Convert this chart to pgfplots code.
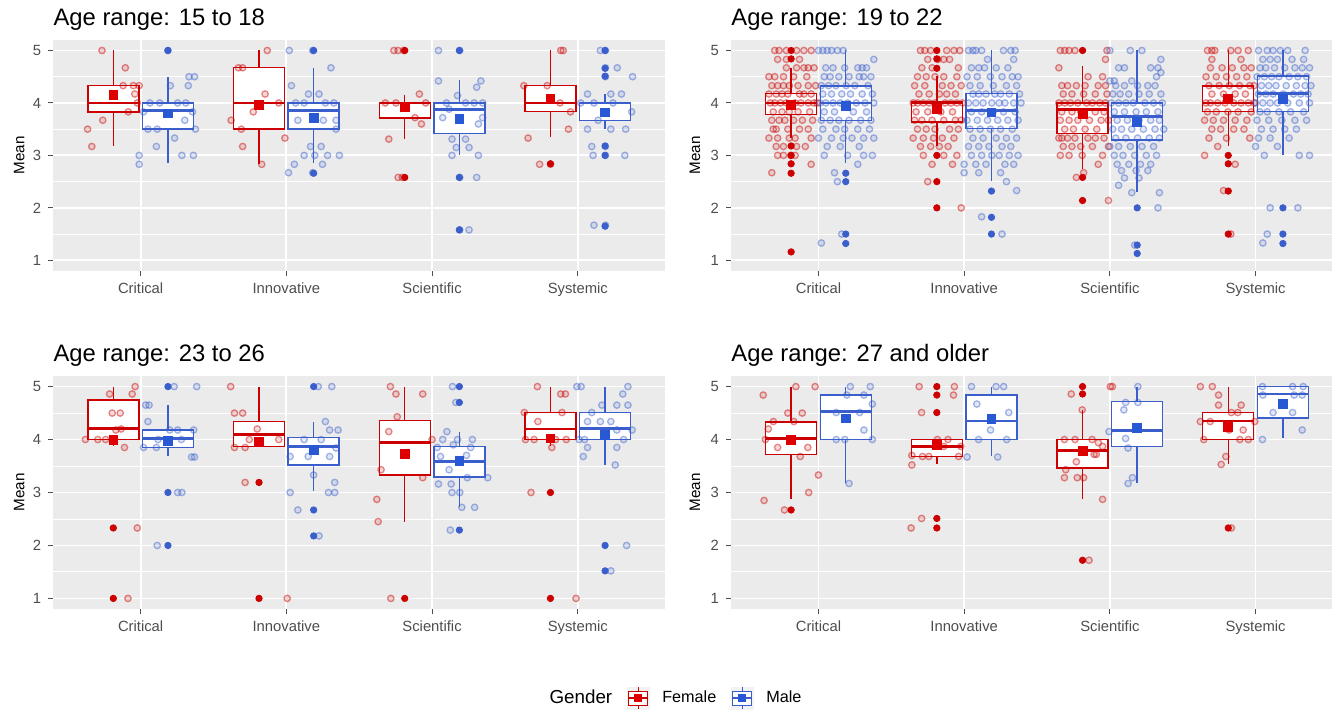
\documentclass[border=0pt]{standalone}
\usepackage{fontspec}
\setmainfont{Liberation Sans}
\usepackage{pgfplots}
\pgfplotsset{compat=1.18}
\usepgfplotslibrary{statistics}
\definecolor{femc}{RGB}{204,0,0}
\definecolor{femmean}{RGB}{222,0,0}
\definecolor{malc}{RGB}{58,95,205}
\definecolor{malmean}{RGB}{40,88,212}
\definecolor{panelbg}{RGB}{235,235,235}
\definecolor{tickgray}{RGB}{77,77,77}
\definecolor{keybg}{RGB}{242,242,242}
\pgfplotsset{
  panel/.style={
    scale only axis, anchor=south west,
    xmin=0.4, xmax=4.6, ymin=0.8, ymax=5.2,
    axis background/.style={fill=panelbg},
    axis line style={draw=none},
    tick pos=left,
    xtick={1,2,3,4}, xticklabels={Critical,Innovative,Scientific,Systemic},
    ytick={1,2,3,4,5}, minor ytick={1.5,2.5,3.5,4.5},
    xmajorgrids, ymajorgrids, yminorgrids,
    major grid style={white, line width=0.9pt},
    minor grid style={white, line width=0.45pt},
    tick align=outside, major tick length=2.5pt, minor tick length=0pt,
    tick style={tickgray, line width=0.5pt},
    tick label style={font=\fontsize{7.4}{9}\selectfont, color=tickgray},
    /pgf/number format/assume math mode=true,
    ylabel={Mean},
    every axis y label/.style={at={(axis description cs:-0.0556,0.5)}, rotate=90, anchor=center, font=\fontsize{7.6}{9}\selectfont},
    every axis title/.style={at={(axis description cs:0,1)}, anchor=base west, yshift=7pt, inner sep=0pt, font=\fontsize{11.9}{14}\selectfont},
  },
  rpanel/.style={panel, xmax=4.5245,
    every axis y label/.style={at={(axis description cs:-0.0599,0.5)}, rotate=90, anchor=center, font=\fontsize{7.6}{9}\selectfont}},
  fembox/.style={forget plot, draw=femc, fill=white, line width=0.7pt, solid, boxplot/every median/.style={line width=1.4pt}},
  malbox/.style={forget plot, draw=malc, fill=white, line width=0.7pt, solid, boxplot/every median/.style={line width=1.4pt}},
  femjit/.style={forget plot, only marks, mark=*, mark size=1.6pt, mark options={draw=femc, fill=femc, draw opacity=0.45, fill opacity=0.14, line width=0.65pt}},
  maljit/.style={forget plot, only marks, mark=*, mark size=1.6pt, mark options={draw=malc, fill=malc, draw opacity=0.45, fill opacity=0.14, line width=0.65pt}},
  femout/.style={forget plot, only marks, mark=*, mark size=1.6pt, color=femc},
  malout/.style={forget plot, only marks, mark=*, mark size=1.6pt, color=malc},
  femmn/.style={forget plot, only marks, mark=square*, mark size=2.2pt, color=femmean},
  malmn/.style={forget plot, only marks, mark=square*, mark size=2.2pt, color=malmean},
}
\newcommand\Bx[7]{\addplot[#1, boxplot prepared={draw direction=y, draw position=#2, lower whisker=#3, lower quartile=#4, median=#5, upper quartile=#6, upper whisker=#7, box extend=0.35, whisker extend=0}] coordinates {};}
\begin{document}
\begin{tikzpicture}
\useasboundingbox (0,0) rectangle (666pt,356pt);
% ---------------- Panel 1: 15 to 18
\begin{axis}[panel, at={(26.6pt,220.6pt)}, width=306pt, height=115.4pt, title={Age range: 15 to 18}]
\Bx{fembox}{0.8125}{3.17}{3.83}{4.0}{4.33}{5.0}
\Bx{malbox}{1.1875}{2.85}{3.5}{3.85}{4.0}{4.5}
\Bx{fembox}{1.8125}{2.84}{3.5}{4.0}{4.67}{5.0}
\Bx{malbox}{2.1875}{2.85}{3.5}{3.85}{4.0}{4.66}
\Bx{fembox}{2.8125}{3.31}{3.71}{4.0}{4.0}{4.16}
\Bx{malbox}{3.1875}{3.0}{3.42}{3.88}{4.0}{4.44}
\Bx{fembox}{3.8125}{3.35}{3.84}{4.0}{4.33}{5.0}
\Bx{malbox}{4.1875}{3.5}{3.67}{4.0}{4.0}{4.18}
\addplot[femout] coordinates {(2.8125,5)(2.8125,2.58)(3.8125,2.84)};
\addplot[malout] coordinates {(1.1875,5)(2.1875,5)(2.1875,2.66)(3.1875,5)(3.1875,2.58)(3.1875,1.58)(4.1875,5)(4.1875,4.66)(4.1875,4.51)(4.1875,3.18)(4.1875,3)(4.1875,1.65)};
\addplot[femjit] coordinates {
(0.735,5.0)(0.895,4.67)(0.95,4.33)(0.88,4.33)(0.74,3.67)(0.636,3.5)(0.665,3.17)(0.915,3.83)(0.977,4.0)(0.99,4.33)(0.96,4.17)
(1.869,5.0)(1.671,4.67)(1.70,4.67)(1.621,3.67)(1.691,3.5)(1.70,3.17)(1.773,3.83)(1.854,4.17)(1.99,3.33)(1.831,2.83)(1.948,4.0)
(2.738,5.0)(2.767,5.0)(2.805,5.0)(2.913,4.17)(2.679,4.0)(2.752,4.0)(2.956,4.0)(2.883,3.72)(2.927,3.6)(2.703,3.31)(2.767,2.58)(2.796,2.58)
(3.883,5.0)(3.90,5.0)(3.79,4.33)(3.63,4.33)(3.878,4.0)(3.95,3.83)(3.936,3.5)(3.659,3.33)(3.738,2.83)(3.813,2.83)};
\addplot[maljit] coordinates {
(1.187,5.0)(1.37,4.5)(1.332,4.5)(1.204,4.33)(1.327,4.33)(1.02,3.83)(1.064,4.0)(1.131,4.0)(1.254,4.0)(1.31,4.0)(1.356,3.83)(1.376,3.5)(1.05,3.5)(1.114,3.5)(1.303,3.67)(1.108,3.17)(1.233,3.33)(1.283,3.0)(1.362,3.0)(0.99,3.0)(0.99,2.83)
(2.02,5.0)(2.181,5.0)(2.306,4.67)(2.035,4.33)(2.152,4.17)(2.224,4.17)(2.064,4.0)(2.122,4.0)(2.268,4.0)(2.326,4.0)(2.079,3.67)(2.254,3.67)(2.341,3.67)(2.341,3.5)(2.239,3.17)(2.166,3.17)(2.122,3.0)(2.195,3.0)(2.283,3.0)(2.364,3.0)(2.055,2.83)(2.248,2.83)(2.015,2.67)(2.181,2.67)
(3.044,5.0)(3.19,5.0)(3.044,4.42)(3.335,4.42)(3.306,4.3)(3.175,4.14)(3.099,4.0)(3.23,4.0)(3.289,4.0)(3.347,4.0)(3.073,3.72)(3.347,3.72)(3.318,3.6)(3.137,3.31)(3.23,3.31)(3.166,3.15)(3.254,3.15)(3.137,3.0)(3.318,3.0)(3.306,2.58)(3.19,2.58)(3.254,1.58)(3.19,1.58)(3.117,3.88)
(4.155,5.0)(4.19,5.0)(4.271,4.67)(4.19,4.67)(4.376,4.5)(4.19,4.5)(4.067,4.17)(4.227,4.17)(4.30,4.17)(4.02,4.0)(4.111,4.0)(4.242,4.0)(4.37,3.83)(4.067,3.5)(4.329,3.5)(4.227,3.5)(4.096,3.17)(4.19,3.17)(4.105,3.0)(4.323,3.0)(4.19,3.0)(4.111,1.67)(4.19,1.67)(4.14,3.67)};
\addplot[femmn] coordinates {(0.8125,4.15)(1.8125,3.97)(2.8125,3.93)(3.8125,4.07)};
\addplot[malmn] coordinates {(1.1875,3.80)(2.1875,3.72)(3.1875,3.70)(4.1875,3.82)};
\end{axis}
% ---------------- Panel 2: 19 to 22
\begin{axis}[rpanel, at={(365.5pt,220.6pt)}, width=300.5pt, height=115.4pt, title={Age range: 19 to 22}]
\Bx{fembox}{0.8125}{3.34}{3.78}{4.0}{4.18}{4.66}
\Bx{malbox}{1.1875}{2.85}{3.66}{4.0}{4.32}{5.0}
\Bx{fembox}{1.8125}{3.18}{3.64}{4.0}{4.03}{4.51}
\Bx{malbox}{2.1875}{2.52}{3.51}{3.86}{4.18}{5.0}
\Bx{fembox}{2.8125}{2.74}{3.42}{3.88}{4.0}{4.7}
\Bx{malbox}{3.1875}{2.31}{3.29}{3.74}{4.0}{5.0}
\Bx{fembox}{3.8125}{3.18}{3.84}{4.0}{4.32}{5.0}
\Bx{malbox}{4.1875}{3.01}{3.84}{4.18}{4.51}{5.0}
\addplot[femout] coordinates {(0.8125,5)(0.8125,4.84)(0.8125,3.18)(0.8125,3)(0.8125,2.84)(0.8125,2.66)(0.8125,1.16)(1.8125,5)(1.8125,4.84)(1.8125,4.66)(1.8125,3)(1.8125,2.5)(1.8125,2)(2.8125,5)(2.8125,2.58)(2.8125,2.14)(3.8125,3)(3.8125,2.84)(3.8125,2.32)(3.8125,1.5)};
\addplot[malout] coordinates {(1.1875,2.66)(1.1875,2.5)(1.1875,1.5)(1.1875,1.32)(2.1875,2.32)(2.1875,1.82)(2.1875,1.5)(3.1875,2)(3.1875,1.29)(3.1875,1.13)(4.1875,2)(4.1875,1.5)(4.1875,1.32)};
\addplot[femjit] coordinates {
(0.70,5)(0.73,5)(0.78,5)(0.85,5)(0.90,5)(0.95,5)
(0.72,4.83)(0.78,4.83)(0.87,4.83)
(0.78,4.67)(0.85,4.67)(0.90,4.67)(0.93,4.67)(0.97,4.67)
(0.66,4.5)(0.70,4.5)(0.76,4.5)(0.83,4.5)(0.92,4.5)
(0.68,4.33)(0.72,4.33)(0.76,4.33)(0.80,4.33)(0.86,4.33)(0.93,4.33)(0.98,4.33)
(0.66,4.17)(0.71,4.17)(0.75,4.17)(0.79,4.17)(0.87,4.17)(0.90,4.17)(0.95,4.17)
(0.67,4)(0.70,4)(0.74,4)(0.78,4)(0.84,4)(0.88,4)(0.93,4)(0.97,4)(0.99,4)
(0.69,3.83)(0.75,3.83)(0.80,3.83)(0.86,3.83)(0.94,3.83)
(0.68,3.67)(0.73,3.67)(0.77,3.67)(0.83,3.67)(0.89,3.67)(0.96,3.67)
(0.69,3.5)(0.71,3.5)(0.79,3.5)(0.87,3.5)(0.93,3.5)
(0.66,3.33)(0.72,3.33)(0.80,3.33)(0.84,3.33)(0.95,3.33)
(0.71,3.17)(0.76,3.17)(0.85,3.17)(0.91,3.17)
(0.72,3)(0.76,3)(0.81,3)(0.84,3)
(0.95,2.83)(0.68,2.67)
(1.70,5)(1.73,5)(1.77,5)(1.88,5)(1.93,5)(1.97,5)
(1.75,4.83)(1.82,4.83)(1.86,4.83)(1.90,4.83)
(1.71,4.67)(1.78,4.67)(1.96,4.67)
(1.68,4.5)(1.74,4.5)(1.80,4.5)(1.86,4.5)(1.95,4.5)
(1.66,4.33)(1.73,4.33)(1.85,4.33)(1.91,4.33)(1.98,4.33)
(1.69,4.17)(1.76,4.17)(1.83,4.17)(1.88,4.17)(1.94,4.17)
(1.65,4)(1.68,4)(1.72,4)(1.76,4)(1.80,4)(1.87,4)(1.91,4)(1.95,4)(1.99,4)
(1.67,3.83)(1.75,3.83)(1.84,3.83)(1.92,3.83)
(1.66,3.67)(1.71,3.67)(1.78,3.67)(1.86,3.67)(1.94,3.67)(1.98,3.67)
(1.68,3.5)(1.74,3.5)(1.80,3.5)(1.90,3.5)(1.96,3.5)
(1.65,3.33)(1.72,3.33)(1.79,3.33)(1.85,3.33)(1.93,3.33)
(1.70,3.17)(1.77,3.17)(1.83,3.17)(1.89,3.17)
(1.72,3)(1.86,3)(1.95,3)
(1.78,2.83)(1.92,2.83)(1.75,2.5)(1.98,2)
(2.66,5)(2.69,5)(2.72,5)(2.76,5)(2.98,5)
(2.97,4.83)(2.65,4.67)(2.85,4.5)(2.95,4.5)
(2.67,4.33)(2.71,4.33)(2.77,4.33)(2.83,4.33)(2.92,4.33)(2.97,4.33)
(2.68,4.17)(2.74,4.17)(2.82,4.17)(2.90,4.17)(2.98,4.17)
(2.65,4)(2.69,4)(2.73,4)(2.78,4)(2.84,4)(2.88,4)(2.93,4)(2.97,4)
(2.67,3.83)(2.74,3.83)(2.80,3.83)(2.90,3.83)(2.96,3.83)
(2.66,3.67)(2.72,3.67)(2.78,3.67)(2.86,3.67)(2.94,3.67)(2.99,3.67)
(2.69,3.5)(2.75,3.5)(2.83,3.5)(2.91,3.5)
(2.65,3.33)(2.67,3.33)(2.71,3.33)(2.76,3.33)(2.85,3.33)(2.90,3.33)(2.96,3.33)
(2.68,3.17)(2.74,3.17)(2.80,3.17)(2.88,3.17)(2.99,3.17)
(2.66,3)(2.72,3)(2.81,3)(2.95,3)
(2.92,2.83)(2.82,2.67)(2.77,2.58)(2.99,2.14)
(3.67,5)(3.70,5)(3.72,5)(3.83,5)(3.88,5)(3.95,5)
(3.70,4.83)(3.90,4.83)
(3.69,4.67)(3.77,4.67)(3.84,4.67)(3.92,4.67)(3.97,4.67)
(3.66,4.5)(3.73,4.5)(3.80,4.5)(3.87,4.5)(3.94,4.5)
(3.68,4.33)(3.75,4.33)(3.82,4.33)(3.89,4.33)(3.96,4.33)(3.99,4.33)
(3.70,4.17)(3.78,4.17)(3.86,4.17)(3.93,4.17)
(3.66,4)(3.69,4)(3.74,4)(3.79,4)(3.85,4)(3.90,4)(3.95,4)(3.99,4)
(3.67,3.83)(3.73,3.83)(3.81,3.83)(3.88,3.83)(3.97,3.83)
(3.65,3.67)(3.71,3.67)(3.78,3.67)(3.86,3.67)(3.94,3.67)
(3.70,3.5)(3.76,3.5)(3.85,3.5)(3.92,3.5)
(3.68,3.33)(3.80,3.33)(3.96,3.33)
(3.74,3.17)(3.65,3)(3.86,2.83)(3.78,2.33)(3.83,1.5)};
\addplot[maljit] coordinates {
(1.00,5)(1.03,5)(1.06,5)(1.09,5)(1.13,5)(1.17,5)
(1.38,4.83)
(1.05,4.67)(1.10,4.67)(1.18,4.67)(1.27,4.67)(1.30,4.67)(1.33,4.67)
(1.04,4.5)(1.08,4.5)(1.14,4.5)(1.21,4.5)(1.28,4.5)(1.31,4.5)(1.36,4.5)
(1.02,4.33)(1.07,4.33)(1.12,4.33)(1.19,4.33)(1.25,4.33)(1.34,4.33)
(1.03,4.17)(1.09,4.17)(1.16,4.17)(1.22,4.17)(1.30,4.17)(1.37,4.17)
(1.01,4)(1.05,4)(1.10,4)(1.15,4)(1.20,4)(1.26,4)(1.32,4)(1.38,4)
(1.04,3.83)(1.11,3.83)(1.24,3.83)(1.33,3.83)
(1.02,3.67)(1.08,3.67)(1.14,3.67)(1.21,3.67)(1.29,3.67)(1.36,3.67)
(1.03,3.5)(1.12,3.5)(1.18,3.5)(1.27,3.5)(1.35,3.5)
(1.00,3.33)(1.09,3.33)(1.17,3.33)(1.23,3.33)(1.31,3.33)(1.38,3.33)
(1.06,3.17)(1.15,3.17)(1.28,3.17)
(1.04,3)(1.20,3)(1.31,3)(1.37,3)
(1.27,2.83)(1.11,2.67)(1.13,2.5)(1.16,1.5)(1.02,1.33)
(2.03,5)(2.06,5)(2.08,5)(2.12,5)(2.27,5)(2.32,5)(2.35,5)
(2.16,4.83)(2.34,4.83)
(2.05,4.67)(2.10,4.67)(2.14,4.67)(2.22,4.67)(2.30,4.67)
(2.02,4.5)(2.09,4.5)(2.18,4.5)(2.26,4.5)(2.33,4.5)(2.37,4.5)
(2.04,4.33)(2.11,4.33)(2.20,4.33)(2.29,4.33)(2.36,4.33)
(2.06,4.17)(2.10,4.17)(2.15,4.17)(2.21,4.17)(2.25,4.17)(2.31,4.17)(2.38,4.17)
(2.03,4)(2.08,4)(2.13,4)(2.19,4)(2.24,4)(2.28,4)(2.34,4)(2.39,4)
(2.05,3.83)(2.12,3.83)(2.20,3.83)(2.27,3.83)(2.35,3.83)
(2.02,3.67)(2.09,3.67)(2.16,3.67)(2.23,3.67)(2.30,3.67)(2.37,3.67)
(2.04,3.5)(2.11,3.5)(2.18,3.5)(2.25,3.5)(2.33,3.5)
(2.06,3.33)(2.13,3.33)(2.22,3.33)(2.29,3.33)(2.36,3.33)
(2.03,3.17)(2.10,3.17)(2.17,3.17)(2.26,3.17)(2.32,3.17)
(2.05,3)(2.12,3)(2.19,3)(2.24,3)(2.31,3)(2.37,3)
(2.00,2.83)(2.08,2.83)(2.15,2.83)(2.28,2.83)(2.34,2.83)
(2.00,2.67)(2.10,2.67)(2.25,2.67)
(2.29,2.5)(2.36,2.33)(2.12,1.83)(2.26,1.5)
(3.00,5)(3.14,5)(3.22,5)(3.35,4.83)
(3.06,4.67)(3.10,4.67)(3.28,4.67)(3.33,4.67)(3.32,4.5)(3.35,4.58)
(3.00,4.42)(3.03,4.42)(3.15,4.42)
(3.04,4.33)(3.10,4.33)(3.19,4.33)(3.26,4.33)(3.31,4.33)
(3.02,4.17)(3.07,4.17)(3.13,4.17)(3.20,4.17)(3.27,4.17)(3.35,4.17)
(3.01,4)(3.06,4)(3.11,4)(3.16,4)(3.24,4)(3.30,4)(3.36,4)
(3.03,3.83)(3.10,3.83)(3.18,3.83)(3.25,3.83)(3.33,3.83)
(3.05,3.67)(3.12,3.67)(3.20,3.67)(3.28,3.67)(3.34,3.67)
(3.02,3.5)(3.08,3.5)(3.15,3.5)(3.23,3.5)(3.31,3.5)(3.37,3.5)
(3.04,3.33)(3.11,3.33)(3.19,3.33)(3.27,3.33)(3.34,3.33)
(3.00,3.17)(3.06,3.17)(3.14,3.17)(3.22,3.17)(3.30,3.17)
(3.03,3)(3.09,3)(3.17,3)(3.25,3)(3.32,3)
(3.05,2.83)(3.13,2.83)(3.21,2.83)(3.28,2.83)
(3.08,2.71)(3.18,2.71)(3.26,2.71)
(3.10,2.57)(3.20,2.57)(3.06,2.43)(3.15,2.29)(3.34,2.29)(3.33,2)(3.17,1.29)
(4.02,5)(4.08,5)(4.12,5)(4.17,5)(4.22,5)(4.34,5)
(4.05,4.83)(4.10,4.83)(4.15,4.83)(4.25,4.83)(4.33,4.83)
(4.03,4.67)(4.07,4.67)(4.13,4.67)(4.20,4.67)(4.27,4.67)(4.32,4.67)(4.37,4.67)
(4.01,4.5)(4.06,4.5)(4.11,4.5)(4.16,4.5)(4.23,4.5)(4.29,4.5)(4.35,4.5)
(4.04,4.33)(4.09,4.33)(4.14,4.33)(4.21,4.33)(4.28,4.33)(4.34,4.33)(4.38,4.33)
(4.02,4.17)(4.07,4.17)(4.12,4.17)(4.19,4.17)(4.26,4.17)(4.31,4.17)(4.36,4.17)
(4.00,4)(4.05,4)(4.10,4)(4.15,4)(4.22,4)(4.30,4)(4.37,4)
(4.03,3.83)(4.08,3.83)(4.16,3.83)(4.24,3.83)(4.33,3.83)
(4.01,3.67)(4.09,3.67)(4.18,3.67)(4.27,3.67)(4.35,3.67)
(4.04,3.5)(4.12,3.5)(4.20,3.5)(4.28,3.5)
(4.02,3.33)(4.10,3.33)(4.23,3.33)
(4.00,3.17)(4.15,3.17)
(4.06,3)(4.30,3)(4.37,3)
(4.10,2)(4.29,2)(4.08,1.5)(4.05,1.33)};
\addplot[femmn] coordinates {(0.8125,3.97)(1.8125,3.88)(2.8125,3.78)(3.8125,4.08)};
\addplot[malmn] coordinates {(1.1875,3.94)(2.1875,3.82)(3.1875,3.64)(4.1875,4.08)};
\end{axis}
% ---------------- Panel 3: 23 to 26
\begin{axis}[panel, at={(26.6pt,51.5pt)}, width=306pt, height=116.5pt, title={Age range: 23 to 26},
  legend style={at={(1.0168,-0.382)}, anchor=center, draw=none, fill=none, legend columns=3,
    font=\fontsize{8.1}{10}\selectfont, /tikz/every even column/.append style={column sep=4.5pt}}]
\Bx{fembox}{0.8125}{3.87}{4.0}{4.21}{4.75}{5.0}
\Bx{malbox}{1.1875}{3.68}{3.85}{4.02}{4.18}{4.65}
\Bx{fembox}{1.8125}{3.87}{3.87}{4.09}{4.34}{5.0}
\Bx{malbox}{2.1875}{3.02}{3.52}{3.87}{4.04}{4.34}
\Bx{fembox}{2.8125}{2.45}{3.33}{3.94}{4.36}{5.0}
\Bx{malbox}{3.1875}{2.73}{3.29}{3.58}{3.87}{4.15}
\Bx{fembox}{3.8125}{3.87}{4.0}{4.2}{4.51}{5.0}
\Bx{malbox}{4.1875}{3.52}{4.0}{4.21}{4.51}{5.0}
\addplot[femout] coordinates {(0.8125,2.33)(0.8125,1)(1.8125,3.19)(1.8125,1)(2.8125,1)(3.8125,3)(3.8125,1)};
\addplot[malout] coordinates {(1.1875,5)(1.1875,3)(1.1875,2)(2.1875,5)(2.1875,2.67)(2.1875,2.18)(3.1875,5)(3.1875,4.7)(3.1875,2.29)(4.1875,2)(4.1875,1.52)};
\addplot[femjit] coordinates {
(0.962,5)(0.942,4.86)(0.787,4.86)(0.805,4.5)(0.86,4.5)(0.706,4)(0.621,4)(0.76,4)(0.889,3.85)(0.866,4.2)(0.83,4.18)(0.977,2.33)(0.913,1)
(1.618,5)(1.644,4.5)(1.70,4.5)(1.80,4.2)(1.644,3.85)(1.717,3.85)(1.746,4)(1.948,4)(1.717,3.19)(2.006,1)
(2.714,5)(2.752,4.86)(2.936,4.86)(2.761,4.43)(2.703,4.15)(2.65,3.43)(3.0,4)(2.936,3.28)(2.621,2.87)(2.63,2.45)(2.717,1)
(3.723,5)(3.883,4.86)(3.915,4.86)(3.633,4.51)(3.892,4.51)(3.726,4.34)(3.641,4)(3.70,4)(3.848,4)(3.921,4)(3.822,3.85)(3.679,3)(3.988,1)};
\addplot[maljit] coordinates {
(1.23,5)(1.385,5)(1.035,4.65)(1.058,4.65)(1.05,4.34)(1.02,3.85)(1.108,3.85)(1.254,4.18)(1.364,4.18)(1.2,4.18)(1.37,3.67)(1.35,3.67)(1.12,4)(1.28,4)(1.283,3)(1.254,3)(1.114,2)
(2.219,5)(2.312,5)(2.268,4.34)(2.297,4.18)(2.355,4.18)(2.122,4)(2.239,4)(2.341,3.84)(2.026,3.68)(2.297,3.68)(2.15,3.68)(2.187,3.33)(2.332,3.19)(2.026,3)(2.289,3)(2.332,3)(2.079,2.67)(2.224,2.18)
(3.14,5)(3.163,4.7)(3.073,4)(3.175,4)(3.277,4)(3.102,4.15)(3.035,3.85)(3.146,3.9)(3.265,3.85)(3.058,3.68)(3.236,3.7)(3.117,3.43)(3.044,3.16)(3.131,3.16)(3.242,3.28)(3.382,3.28)(3.137,3)(3.19,3)(3.204,2.72)(3.292,2.72)(3.125,2.29)
(3.994,5)(4.023,5)(4.344,5)(4.309,4.86)(4.096,4.51)(4.166,4.65)(4.268,4.65)(4.344,4.65)(4.067,4.34)(4.155,4.34)(4.227,4.34)(4.373,4.18)(4.268,4.18)(4.047,4)(4.009,4)(4.315,4)(4.067,3.85)(4.268,3.85)(4.038,3.68)(4.257,3.52)(4.335,2)(4.227,1.52)};
\addplot[femmn] coordinates {(0.8125,4.0)(1.8125,3.95)(2.8125,3.73)(3.8125,4.02)};
\addplot[malmn] coordinates {(1.1875,3.98)(2.1875,3.80)(3.1875,3.60)(4.1875,4.09)};
\addlegendimage{empty legend}
\addlegendentry{\fontsize{9.4}{10}\selectfont Gender}
\addlegendimage{legend image code/.code={
  \path[draw=none, fill=none] (-1pt,0pt) -- (15.5pt,0pt);
  \fill[keybg] (0pt,-5.5pt) rectangle (11pt,5.5pt);
  \draw[femc, line width=0.5pt] (5.5pt,-5.5pt) -- (5.5pt,5.5pt);
  \draw[femc, fill=white, line width=0.5pt] (0.8pt,-3.5pt) rectangle (10.2pt,3.5pt);
  \draw[femc, line width=0.9pt] (0.8pt,0pt) -- (10.2pt,0pt);
  \fill[femmean] (3.8pt,-1.7pt) rectangle (7.2pt,1.7pt);}}
\addlegendentry{Female}
\addlegendimage{legend image code/.code={
  \path[draw=none, fill=none] (-1pt,0pt) -- (15.5pt,0pt);
  \fill[keybg] (0pt,-5.5pt) rectangle (11pt,5.5pt);
  \draw[malc, line width=0.5pt] (5.5pt,-5.5pt) -- (5.5pt,5.5pt);
  \draw[malc, fill=white, line width=0.5pt] (0.8pt,-3.5pt) rectangle (10.2pt,3.5pt);
  \draw[malc, line width=0.9pt] (0.8pt,0pt) -- (10.2pt,0pt);
  \fill[malmean] (3.8pt,-1.7pt) rectangle (7.2pt,1.7pt);}}
\addlegendentry{Male}
\end{axis}
% ---------------- Panel 4: 27 and older
\begin{axis}[rpanel, at={(365.5pt,51.5pt)}, width=300.5pt, height=116.5pt, title={Age range: 27 and older}]
\Bx{fembox}{0.8125}{2.87}{3.72}{4.02}{4.33}{5.0}
\Bx{malbox}{1.1875}{3.17}{4.0}{4.53}{4.84}{5.0}
\Bx{fembox}{1.8125}{3.53}{3.68}{3.87}{4.0}{4.0}
\Bx{malbox}{2.1875}{3.68}{4.0}{4.35}{4.84}{5.0}
\Bx{fembox}{2.8125}{2.87}{3.46}{3.8}{4.0}{4.56}
\Bx{malbox}{3.1875}{3.17}{3.87}{4.17}{4.72}{5.0}
\Bx{fembox}{3.8125}{3.53}{4.0}{4.35}{4.51}{5.0}
\Bx{malbox}{4.1875}{4.02}{4.41}{4.86}{5.0}{5.0}
\addplot[femout] coordinates {(0.8125,2.67)(1.8125,5)(1.8125,4.84)(1.8125,4.51)(1.8125,2.51)(1.8125,2.33)(2.8125,5)(2.8125,4.86)(2.8125,1.72)(3.8125,2.33)};
\addplot[femjit] coordinates {
(0.845,5)(0.977,5)(0.621,4.84)(0.79,4.5)(0.889,4.5)(0.691,4.34)(0.656,4.2)(0.636,4)(0.72,3.85)(0.927,3.85)(0.831,4.34)(0.875,3.68)(1.0,3.33)(0.933,3)(0.627,2.85)(0.767,2.67)
(1.691,5)(1.933,5)(1.927,4.84)(1.708,4.51)(1.641,3.52)(1.641,3.7)(1.714,3.68)(1.758,3.68)(1.816,4)(1.889,4)(1.977,3.87)(1.962,3.68)(1.86,3.87)(1.708,2.51)(1.636,2.33)
(2.735,4.86)(2.81,4.56)(3.003,5)(3.017,5)(2.688,4)(2.761,4)(2.878,4)(2.921,3.94)(2.95,3.87)(2.697,3.43)(2.77,3.58)(2.892,3.72)(2.907,3.72)(2.688,3.28)(2.776,3.28)(2.82,3.28)(2.95,2.87)(2.857,1.72)
(3.621,5)(3.703,5)(3.746,4.84)(3.746,4.65)(3.901,4.65)(3.621,4.34)(3.688,4.34)(3.834,4.51)(3.878,4.51)(3.994,4.34)(3.644,4)(3.892,4)(3.95,4)(3.915,4.18)(3.818,4.18)(3.796,3.68)(3.764,3.53)(3.834,2.33)};
\addplot[maljit] coordinates {
(1.219,5)(1.356,5)(1.195,4.84)(1.312,4.84)(1.37,4.67)(1.122,4.51)(1.283,4.51)(1.312,4.18)(1.122,4)(1.181,4)(1.37,4)(1.21,3.17)
(2.05,5)(2.219,5)(2.271,5)(2.087,4.67)(2.181,4.18)(2.306,4.51)(2.099,4)(2.292,4)(2.02,3.67)(2.23,3.67)
(3.192,5)(3.108,4.7)(3.192,4.7)(3.096,4.56)(2.994,4.15)(3.108,4.02)(3.125,3.84)(3.155,3.28)(3.125,3.17)
(4.047,5)(4.254,5)(4.327,5)(4.05,4.84)(4.265,4.84)(4.32,4.84)(4.12,4.51)(4.254,4.51)(4.32,4.18)(4.047,4)};
\addplot[femmn] coordinates {(0.8125,4.0)(1.8125,3.9)(2.8125,3.79)(3.8125,4.24)};
\addplot[malmn] coordinates {(1.1875,4.4)(2.1875,4.39)(3.1875,4.22)(4.1875,4.67)};
\end{axis}
\end{tikzpicture}
\end{document}
